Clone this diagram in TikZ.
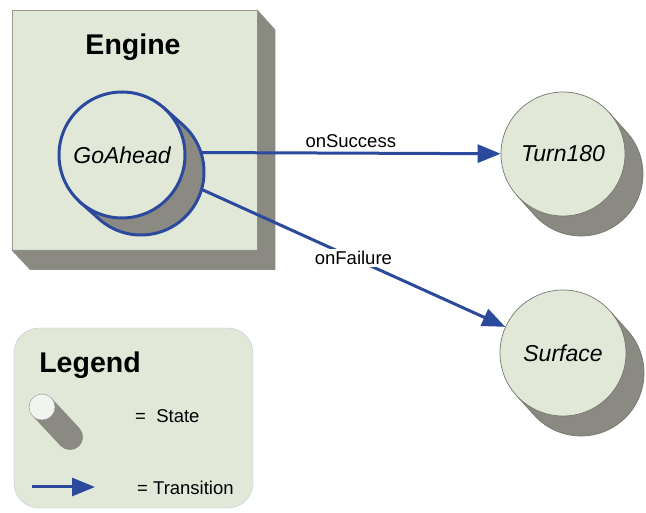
\documentclass[tikz,border=0pt]{standalone}
\usepackage{fontspec}
\setmainfont{Liberation Sans}
\usetikzlibrary{arrows.meta,positioning,calc}
\definecolor{PanelFill} {HTML}{E2E8D8}
\definecolor{SideGray}  {HTML}{8A8A82}
\definecolor{EdgeGray}  {HTML}{9A9A92}
\definecolor{TransBlue} {HTML}{2B4A9E}
\definecolor{LegendEdge}{HTML}{C4C6D6}
\definecolor{StateEdge} {HTML}{77776F}
\definecolor{IconFill}  {HTML}{F2F4EE}

% #1 centre, #2 offset, #3 radius, #4 tangent angle, #5 style
\newcommand{\cylshadow}[5]{%
  \path[#5] ($(#1)+(#4:#3pt)$) -- ++(#2)
    arc[start angle=#4, end angle=#4-180, radius=#3pt]
    -- ($(#1)+(#4-180:#3pt)$) -- cycle;}

\begin{document}
\begin{tikzpicture}[x=1pt,y=1pt,
  state/.style={circle,fill=PanelFill,draw=StateEdge,line width=0.7pt,
    minimum size=124pt,inner sep=0pt,font=\fontsize{23}{27}\selectfont\itshape},
  trans/.style={draw=TransBlue,line width=3pt,-{Triangle[length=23pt,width=18pt]}},
  translabel/.style={font=\fontsize{18.5}{22}\selectfont,inner sep=2pt},
  boxtitle/.style={font=\fontsize{28.5}{34}\selectfont\bfseries}]
  \useasboundingbox (0,0) rectangle (646,512);

  % engine box
  \node[draw=EdgeGray,fill=PanelFill,minimum width=245pt,minimum height=240pt,
        inner sep=0pt] (engine) at (134.5,382) {};
  \filldraw[fill=SideGray,draw=EdgeGray] (engine.north east) -- ++(18,-20)
    -- ++(0,-240) -- ++(-245,0) -- (engine.south west) -- (engine.south east) -- cycle;
  \node[boxtitle,anchor=base] (enginetitle) at (133,457) {Engine};

  % states
  \cylshadow{122,357}{19,-17}{63}{48}{fill=SideGray,draw=TransBlue,line width=3pt}
  \node[state,draw=TransBlue,line width=3pt,minimum size=126pt] (goahead) at (122,357) {GoAhead};
  \coordinate (goaheadsh) at (141,340);
  \coordinate (succout) at ($(goaheadsh)+(18:63pt)$);
  \coordinate (failout) at ($(goaheadsh)+(-16:63pt)$);

  \cylshadow{563,358}{18,-20}{62}{42}{fill=SideGray,draw=StateEdge,line width=0.7pt}
  \node[state] (turn180) at (563,358) {Turn180};
  \cylshadow{563,159}{18,-20}{63}{42}{fill=SideGray,draw=StateEdge,line width=0.7pt}
  \node[state,minimum size=126pt] (surface) at (563,159) {Surface};

  % transitions
  \draw[trans] (succout) -- (turn180)
    node[translabel,midway,above=2pt,text=black] {onSuccess};
  \draw[trans] (failout) -- (surface)
    node[translabel,midway,fill=white,text=black] {onFailure};

  % legend
  \node[draw=LegendEdge,fill=PanelFill,rounded corners=25pt,minimum width=239pt,
        minimum height=180pt] (legend) at (133.5,94) {};
  \node[boxtitle,anchor=base] (legendtitle) at (90,139) {Legend};
  \cylshadow{42,105}{28,-30}{13}{43}{fill=SideGray}
  \node[circle,fill=IconFill,draw=LegendEdge!80!black,line width=0.5pt,minimum size=26pt,
        inner sep=0pt] (legstate) at (42,105) {};
  \node[translabel,anchor=base west] (legstatetext) at (133,89) {=\ \ State};
  \coordinate (legarrowa) at (32,25);
  \coordinate (legarrowb) at (95,25);
  \draw[trans] (legarrowa) -- (legarrowb);
  \node[translabel,anchor=base west] (legtranstext) at (135,17) {= Transition};
\end{tikzpicture}
\end{document}
